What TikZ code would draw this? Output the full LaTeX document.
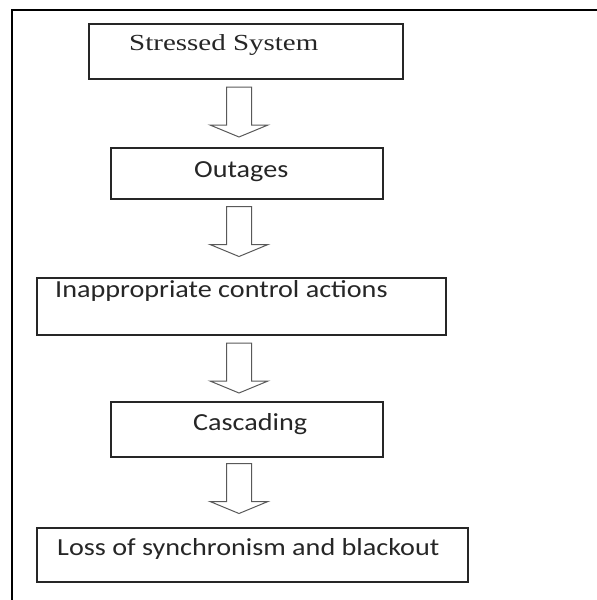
\documentclass[tikz,border=0pt]{standalone}
\usepackage{fontspec}
\setmainfont{Liberation Serif}
\newfontfamily\bodyfont[FakeStretch=1.15]{Carlito}
\newfontfamily\headfont[FakeStretch=1.26]{Liberation Serif}
\usepackage{tikz}

\tikzset{
  stage/.style={rectangle, draw=black!85, line width=1.4pt, inner sep=0pt},
  stagetext/.style={anchor=base west, inner sep=0pt, text=black!85,
    font=\bodyfont\fontsize{24.5}{28}\selectfont},
  flow/.pic={
    \draw[draw=black!65, line width=1pt, line join=miter]
      (-12.5,0) -- (-12.5,38) -- (-29,38) -- (0,50) -- (29,38) -- (12.5,38) -- (12.5,0) -- cycle;
  }
}

\begin{document}
\begin{tikzpicture}[x=1pt, y=-1pt]
        \useasboundingbox (0,0) rectangle (597,600);
        % frame, only top and left edges are in view
        \draw[line width=2.3pt] (12,600) -- (12,10) -- (597,10);

        \node (stressed) [stage, minimum width=314pt, minimum height=55pt] at (246,51.5) {};
        \node (outages) [stage, minimum width=272pt, minimum height=51pt] at (247,173.5) {};
        \node (control) [stage, minimum width=409pt, minimum height=57pt] at (241.5,306.5) {};
        \node (cascade) [stage, minimum width=272pt, minimum height=55pt] at (247,429.5) {};
        \node (blackout) [stage, minimum width=431pt, minimum height=54pt] at (252.5,555) {};

        \node (stressedtxt) [stagetext, font=\headfont\fontsize{23}{27}\selectfont] at (129,50) {Stressed System};
        \node (outagestxt) [stagetext] at (194,177) {Outages};
        \node (controltxt) [stagetext] at (55,297.5) {Inappropriate control actions};
        \node (cascadetxt) [stagetext] at (193,430) {Cascading};
        \node (blackouttxt) [stagetext] at (57,555.5) {Loss of synchronism and blackout};

        % block arrows between the stages
        \pic (flow1) at (239,87) {flow};
        \pic (flow2) at (239,206.5) {flow};
        \pic (flow3) at (239,343) {flow};
        \pic (flow4) at (239,463.5) {flow};
    \end{tikzpicture}
\end{document}
